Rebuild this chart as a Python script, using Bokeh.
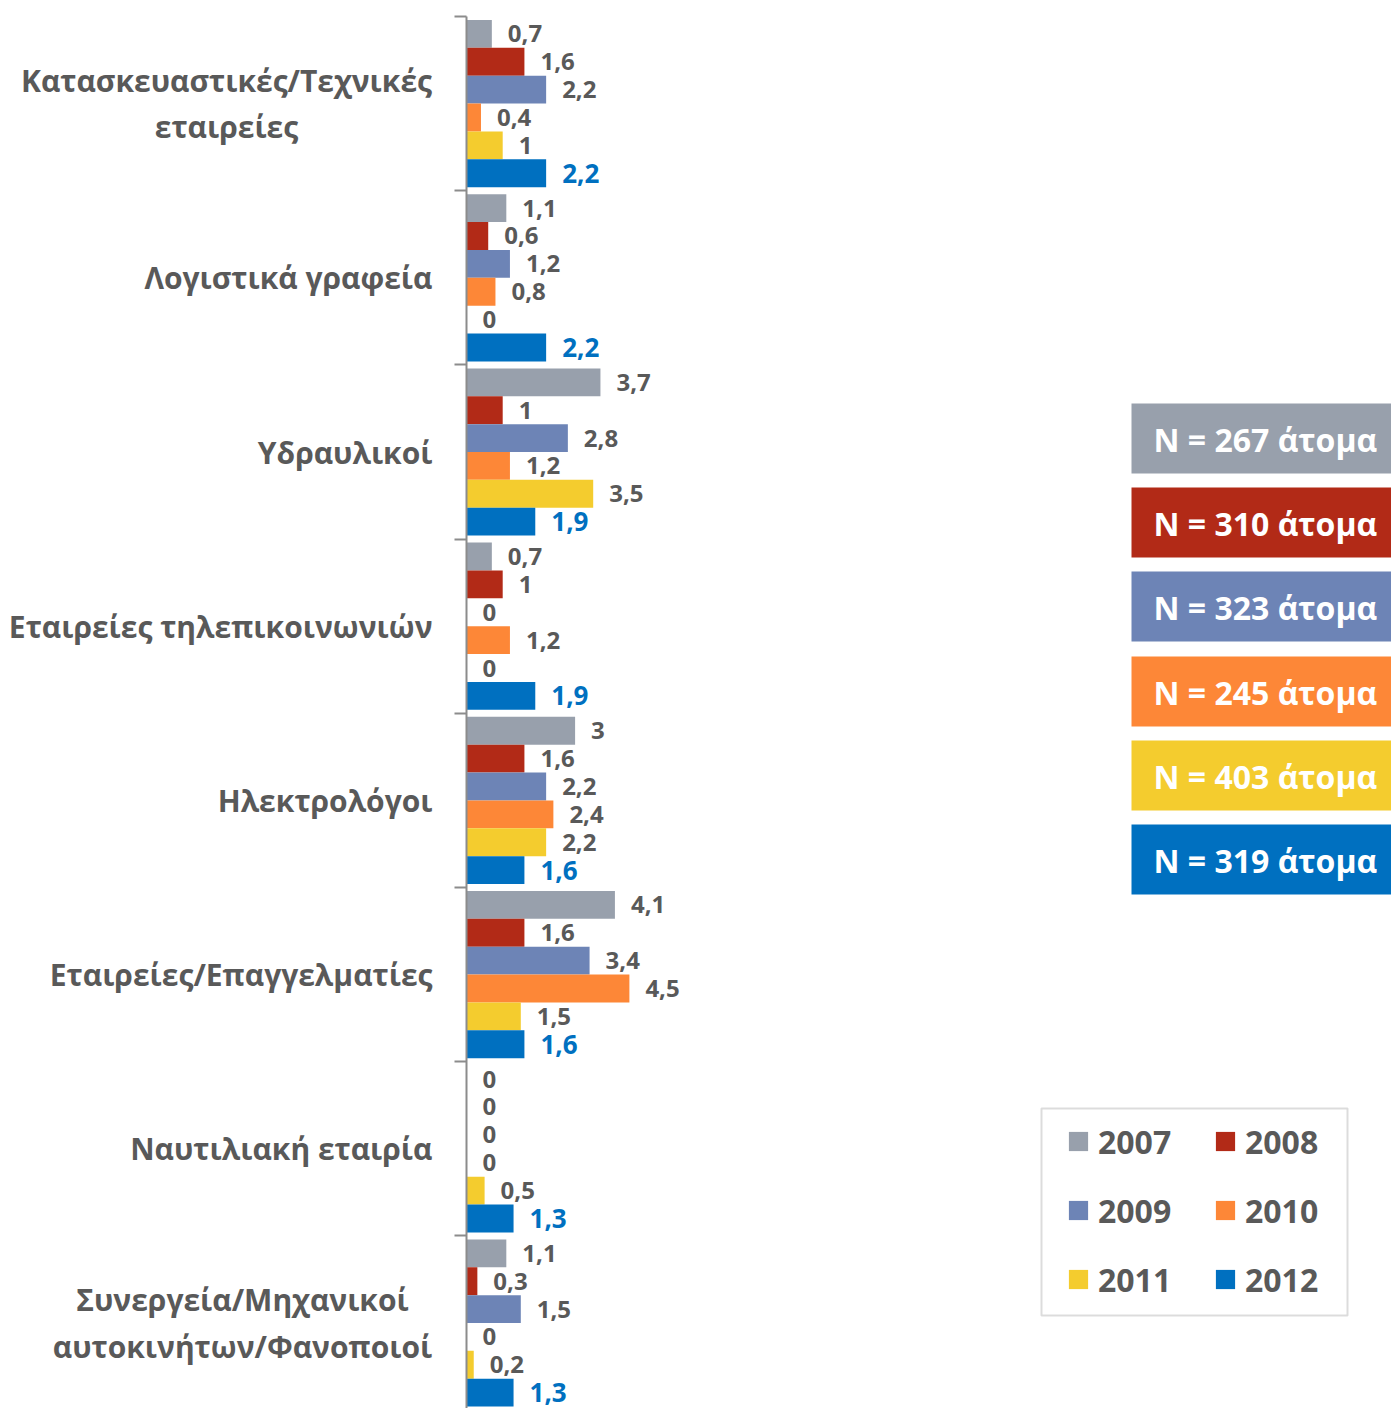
from bokeh.plotting import figure
from bokeh.layouts import row
from bokeh.models import Range1d, FixedTicker, BoxAnnotation, Label, Legend, LegendItem
from bokeh.core.properties import value
from bokeh.embed import file_html
from bokeh.resources import INLINE

# ---------------- data ----------------
categories = [
    "Κατασκευαστικές/Τεχνικές\nεταιρείες",
    "Λογιστικά γραφεία",
    "Υδραυλικοί",
    "Εταιρείες τηλεπικοινωνιών",
    "Ηλεκτρολόγοι",
    "Εταιρείες/Επαγγελματίες",
    "Ναυτιλιακή εταιρία",
    "Συνεργεία/Μηχανικοί\nαυτοκινήτων/Φανοποιοί",
]
years = ["2007", "2008", "2009", "2010", "2011", "2012"]
v2007 = [0.7, 1.1, 3.7, 0.7, 3.0, 4.1, 0.0, 1.1]
v2008 = [1.6, 0.6, 1.0, 1.0, 1.6, 1.6, 0.0, 0.3]
v2009 = [2.2, 1.2, 2.8, 0.0, 2.2, 3.4, 0.0, 1.5]
v2010 = [0.4, 0.8, 1.2, 1.2, 2.4, 4.5, 0.0, 0.0]
v2011 = [1.0, 0.0, 3.5, 0.0, 2.2, 1.5, 0.5, 0.2]
v2012 = [2.2, 2.2, 1.9, 1.9, 1.6, 1.6, 1.3, 1.3]
sample_sizes = [267, 310, 323, 245, 403, 319]

series = [v2007, v2008, v2009, v2010, v2011, v2012]
colors = ["#98A0AC", "#B22A17", "#6D84B6", "#FD8737", "#F4CC2E", "#0070C0"]
label_colors = ["#595959"] * 5 + ["#0070C0"]
label_sizes = ["24px"] * 5 + ["26px"]

# ---------------- layout constants ----------------
W, H = 1391, 1408
LABEL_W = 446             # width of the category-name panel
AXIS_PAD = 20             # axis panel inside the chart figure
FRAME_LEFT = LABEL_W + AXIS_PAD   # page x of the value axis
PX_X = 36.2               # px per unit of value
GROUP_PX = 174.2          # px per category group
TOP_OFF = 16              # px from frame top to first group boundary
BAR_H = 0.16              # bar thickness in group units
FONT = value("Open Sans")
GRAY = "#595959"
AXIS_GRAY = "#8C8C8C"
CAT_FONT_SIZE = "30px"
CAT_RIGHT = 432           # right edge of single-line category names (page x)
TWO_LINE_CENTRE = {0: 226, 7: 242}

n = len(categories)
chart_w = W - LABEL_W
x_end = (chart_w - AXIS_PAD) / PX_X
y_top = -TOP_OFF / GROUP_PX
y_bot = y_top + H / GROUP_PX

def fx(px):  # page x -> data x
    return (px - FRAME_LEFT) / PX_X

def fy(px):  # page y -> data y
    return (px - TOP_OFF) / GROUP_PX

def fmt(v):
    return f"{v:g}".replace(".", ",")

# ---------------- category-name panel ----------------
lab = figure(width=LABEL_W, height=H,
             x_range=Range1d(0, LABEL_W), y_range=Range1d(y_bot, y_top),
             output_backend="svg", toolbar_location=None,
             x_axis_location=None, y_axis_location=None,
             min_border_left=0, min_border_right=0, min_border_top=0, min_border_bottom=0)
lab.grid.visible = False
lab.outline_line_color = None

single = [i for i in range(n) if "\n" not in categories[i]]
double = [i for i in range(n) if "\n" in categories[i]]
lab.text(x=[CAT_RIGHT] * len(single), y=[i + 0.5 for i in single],
         text=[categories[i] for i in single],
         text_align="right", text_baseline="middle",
         text_font=FONT, text_font_style="bold", text_font_size=CAT_FONT_SIZE,
         text_color=GRAY)
lab.text(x=[TWO_LINE_CENTRE[i] for i in double], y=[i + 0.5 for i in double],
         text=[categories[i] for i in double],
         text_align="center", text_baseline="middle", text_line_height=1.13,
         text_font=FONT, text_font_style="bold", text_font_size=CAT_FONT_SIZE,
         text_color=GRAY)

# ---------------- chart ----------------
p = figure(width=chart_w, height=H,
           x_range=Range1d(0, x_end), y_range=lab.y_range,
           output_backend="svg", toolbar_location=None, x_axis_location=None,
           min_border_left=AXIS_PAD, min_border_right=0,
           min_border_top=0, min_border_bottom=0)
p.grid.visible = False
p.outline_line_color = None

renderers = {}
for j, (yr, vals, col) in enumerate(zip(years, series, colors)):
    ys = [i + 0.5 + (j - 2.5) * BAR_H for i in range(n)]
    r = p.hbar(y=ys, left=0, right=vals, height=BAR_H, fill_color=col, line_color=None)
    renderers[yr] = r
    p.text(x=vals, y=ys, text=[fmt(v) for v in vals], x_offset=16,
           text_align="left", text_baseline="middle",
           text_font=FONT, text_font_style="bold", text_font_size=label_sizes[j],
           text_color=label_colors[j])

# value axis line with boundary ticks between categories
ax = p.yaxis[0]
ax.ticker = FixedTicker(ticks=[i + 0.5 for i in range(n)],
                        minor_ticks=[float(i) for i in range(n + 1)])
ax.major_label_overrides = {i + 0.5: "" for i in range(n)}
ax.bounds = (0, n)
ax.major_tick_line_color = None
ax.major_tick_out = 0
ax.major_tick_in = 0
ax.minor_tick_out = 12
ax.minor_tick_in = 0
ax.minor_tick_line_color = AXIS_GRAY
ax.minor_tick_line_width = 2
ax.axis_line_color = AXIS_GRAY
ax.axis_line_width = 2
ax.major_label_standoff = 0
ax.major_label_text_font_size = "1px"

# sample size boxes
box_tops = [403, 487, 571, 656, 740, 824]
for top, nval, col in zip(box_tops, sample_sizes, colors):
    p.add_layout(BoxAnnotation(left=fx(1131), right=x_end, top=fy(top), bottom=fy(top + 70),
                               fill_color=col, fill_alpha=1.0, line_color=None))
    p.add_layout(Label(x=fx(1153), y=fy(top + 36), text=f"N = {nval} άτομα",
                       text_font="Open Sans", text_font_style="bold", text_font_size="32px",
                       text_color="white", text_baseline="middle", text_align="left"))

# year legend: frame box + legend items (row-major order)
p.add_layout(BoxAnnotation(left=fx(1041), right=fx(1347), top=fy(1108), bottom=fy(1315),
                           fill_color="white", fill_alpha=1.0,
                           line_color=AXIS_GRAY, line_width=2))
order = ["2007", "2009", "2011", "2008", "2010", "2012"]
legend = Legend(items=[LegendItem(label=y, renderers=[renderers[y]]) for y in order],
                ncols=2, location=(600, 107),
                glyph_width=24, glyph_height=24, label_standoff=8,
                label_width=90, label_height=44, spacing=25, padding=0, margin=0,
                label_text_font="Open Sans", label_text_font_style="bold",
                label_text_font_size="32px", label_text_color=GRAY,
                border_line_color=None, background_fill_alpha=0.0)
p.add_layout(legend, "center")

layout = row(lab, p, spacing=0)
open("out.html", "w").write(file_html(layout, INLINE))
